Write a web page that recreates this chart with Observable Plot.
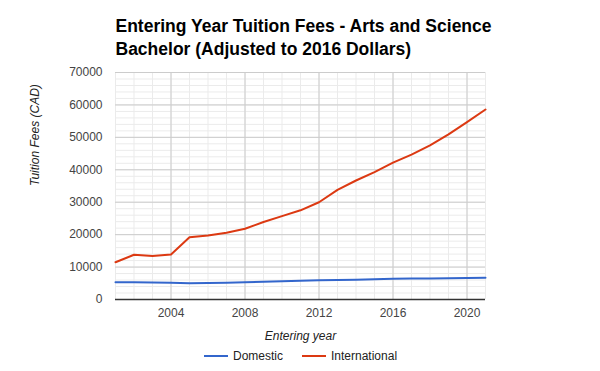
<!DOCTYPE html>
<html><head><meta charset="utf-8">
<script src="https://cdn.jsdelivr.net/npm/d3@7"></script>
<script src="https://cdn.jsdelivr.net/npm/@observablehq/plot@0.6"></script>
<style>
body{margin:0;background:#fff;}
#c{position:relative;width:600px;height:371px;font-family:Arial,"Liberation Sans",sans-serif;}
</style>
</head><body><div id="c"></div>
<script>
const years = [2001,2002,2003,2004,2005,2006,2007,2008,2009,2010,2011,2012,2013,2014,2015,2016,2017,2018,2019,2020,2021];
const domestic = [5350,5300,5250,5150,5000,5100,5200,5300,5500,5650,5800,5900,6000,6100,6250,6400,6450,6500,6550,6650,6700];
const international = [11500,13800,13400,13900,19200,19750,20600,21800,23900,25700,27500,30000,33800,36700,39300,42200,44700,47500,50900,54700,58600];
const seriesNames = ["Domestic","International"];
const colors = ["#3366cc","#dc3912"];
const yTicks = [0,10000,20000,30000,40000,50000,60000,70000];
const xTicks = [2004,2008,2012,2016,2020];
const titleLines = ["Entering Year Tuition Fees - Arts and Science","Bachelor (Adjusted to 2016 Dollars)"];

const rows = [];
years.forEach((y,i)=>{
  rows.push({year:y, value:domestic[i], series:seriesNames[0]});
  rows.push({year:y, value:international[i], series:seriesNames[1]});
});
const minorY = d3.range(0, 70001, 2000);
const minorX = years;

const chart = Plot.plot({
  width:600, height:371,
  marginLeft:115, marginRight:115, marginTop:72, marginBottom:72,
  style:{fontFamily:"Arial, 'Liberation Sans', sans-serif", fontSize:"12px", color:"#444", background:"#fff"},
  x:{domain:[2001,2021]},
  y:{domain:[0,70000]},
  color:{domain:seriesNames, range:colors},
  marks:[
    Plot.ruleY(minorY,{stroke:"#ebebeb", strokeWidth:1}),
    Plot.ruleX(minorX,{stroke:"#ebebeb", strokeWidth:1}),
    Plot.ruleY(yTicks,{stroke:"#cccccc", strokeWidth:1}),
    Plot.ruleX(xTicks,{stroke:"#cccccc", strokeWidth:1}),
    Plot.axisY({ticks:yTicks, tickSize:0, tickPadding:13, tickFormat:d=>String(d), fill:"#444", fontSize:12, label:null}),
    Plot.axisX({ticks:xTicks, tickSize:0, tickPadding:9, tickFormat:d=>String(d), fill:"#444", fontSize:12, label:null}),
    Plot.ruleY([0],{stroke:"#333", strokeWidth:1.5}),
    Plot.line(rows,{x:"year", y:"value", z:"series", stroke:"series", strokeWidth:2}),
    Plot.text([titleLines.join("\n")],{frameAnchor:"top-left", dx:0, dy:-56, text:d=>d, textAnchor:"start", lineAnchor:"top", fontSize:17.5, fontWeight:"bold", fill:"#000", lineHeight:1.27}),
    Plot.text(["Entering year"],{frameAnchor:"bottom", dy:40, text:d=>d, fontStyle:"italic", fontSize:12, fill:"#222"}),
    Plot.text(["Tuition Fees (CAD)"],{frameAnchor:"left", dx:-80, rotate:-90, text:d=>d, fontStyle:"italic", fontSize:12, fill:"#222"})
  ]
});
const c = document.getElementById("c");
c.appendChild(chart);

// legend
const svg = d3.select(chart);
const lg = svg.append("g").attr("font-size",12).attr("fill","#222").attr("text-anchor","start");
const legendX = [204, 302];
seriesNames.forEach((n,i)=>{
  lg.append("line").attr("x1",legendX[i]).attr("x2",legendX[i]+24).attr("y1",356).attr("y2",356).attr("stroke",colors[i]).attr("stroke-width",2);
  lg.append("text").attr("x",legendX[i]+29).attr("y",356).attr("dy","0.35em").attr("text-anchor","start").text(n);
});
</script></body></html>
